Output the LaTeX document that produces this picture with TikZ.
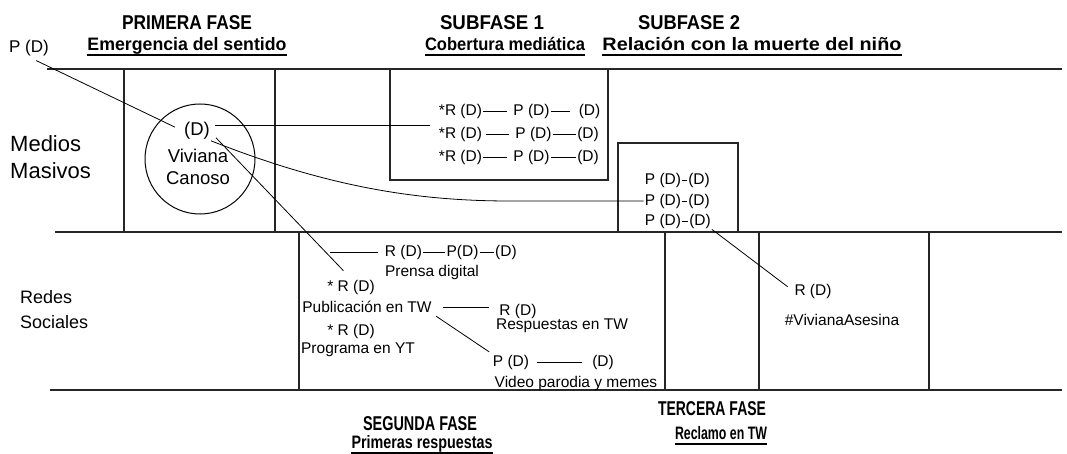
\documentclass[tikz,border=0pt]{standalone}
\usepackage{graphicx}
\usepackage{fontspec}
\setmainfont{Liberation Sans}
\newcommand{\fitwd}[2]{\resizebox{#1}{\height}{#2}}
\tikzset{
  frame/.style={line width=1.7pt, draw=black!85},
  conn/.style={line width=0.8pt, draw=black},
  uline/.style={line width=1.4pt, draw=black},
  txt/.style={inner sep=1pt, font=\fontsize{15.5}{18}\selectfont},
  big/.style={inner sep=1pt, font=\fontsize{18.5}{21}\selectfont},
  side/.style={anchor=west, inner sep=0pt, align=left},
  ttl/.style={inner sep=0pt, font=\bfseries\fontsize{20}{22}\selectfont},
  sub/.style={inner sep=0pt, text depth=4.5pt, font=\bfseries\fontsize{18}{20}\selectfont},
}
\begin{document}
\begin{tikzpicture}[x=1pt,y=-1pt]
\fill[white] (0,0) rectangle (1067,454);
\useasboundingbox (0,0) rectangle (1067,454);

% ---------- frame ----------
\draw[frame] (47,69) -- (1062,69);
\draw[frame] (55,232) -- (1062,232);
\draw[frame] (50,390) -- (1062,390);
\draw[frame] (124,69) -- (124,232);
\draw[frame] (275,69) -- (275,232);
\draw[frame] (390,69) -- (390,180) -- (608,180) -- (608,69);
\draw[frame] (618,232) -- (618,143) -- (738,143) -- (738,232);
\draw[frame] (299,232) -- (299,390);
\draw[frame] (665,232) -- (665,390);
\draw[frame] (759,232) -- (759,390);
\draw[frame] (929,232) -- (929,390);

% ---------- headings ----------
\node[ttl] (t1) at (187,23) {\fitwd{130pt}{PRIMERA FASE}};
\node[sub] (s1) at (187,46) {\fitwd{199pt}{Emergencia del sentido}};
\node[ttl] (t2) at (492,23) {\fitwd{104pt}{SUBFASE 1}};
\node[sub] (s2) at (505,46) {\fitwd{160pt}{Cobertura mediática}};
\node[ttl] (t3) at (689,23) {\fitwd{102pt}{SUBFASE 2}};
\node[sub] (s3) at (752,46) {\fitwd{299pt}{Relación con la muerte del niño}};
\node[ttl] (t4) at (420,424) {\fitwd{114pt}{SEGUNDA FASE}};
\node[sub] (s4) at (422,444) {\fitwd{141pt}{Primeras respuestas}};
\node[ttl] (t5) at (712,409) {\fitwd{108pt}{TERCERA FASE}};
\node[sub] (s5) at (721,435) {\fitwd{92pt}{Reclamo en TW}};
\foreach \s in {s1,s2,s3,s4,s5}{\draw[uline] (\s.south west) -- (\s.south east);}

% ---------- row labels ----------
\node[side, font=\fontsize{22}{27}\selectfont] (mm) at (10,157) {Medios\\Masivos};
\node[side, font=\fontsize{18}{25}\selectfont] (rs) at (20,310) {Redes\\Sociales};

% ---------- primera fase ----------
\node[font=\fontsize{17}{20}\selectfont, inner sep=1pt] (ptl) at (29,48) {P (D)};
\node[draw, circle, minimum size=110pt, inner sep=0pt, line width=1pt] (vc) at (200,159) {};
\node[big] (cd) at (197,131) {(D)};
\node[big] (viv) at (198,156) {Viviana};
\node[big] (can) at (198,178) {Canoso};

% ---------- subfase 1 ----------
\node[txt] (r1) at (460.5,111) {*R (D)};
\node[txt] (p1) at (531.5,111) {P (D)};
\node[txt] (d1) at (589.5,111) {(D)};
\node[txt] (r2) at (460.5,134) {*R (D)};
\node[txt] (p2) at (533.5,134) {P (D)};
\node[txt] (d2) at (588,134) {(D)};
\node[txt] (r3) at (460.5,157) {*R (D)};
\node[txt] (p3) at (531.5,157) {P (D)};
\node[txt] (d3) at (588,157) {(D)};
\draw[conn, shorten >=5pt] (r1) -- (p1);
\draw[conn, shorten >=8pt] (p1) -- (d1);
\draw[conn, shorten <=3pt, shorten >=5pt] (r2) -- (p2);
\draw[conn] (p2) -- (d2);
\draw[conn, shorten >=5pt] (r3) -- (p3);
\draw[conn] (p3) -- (d3);

% ---------- subfase 2 ----------
\node[txt] (q1) at (663,180) {P (D)};
\node[txt] (e1) at (699,180) {(D)};
\node[txt] (q2) at (663,201) {P (D)};
\node[txt] (e2) at (699,201) {(D)};
\node[txt] (q3) at (663,221) {P (D)};
\node[txt] (e3) at (700,221) {(D)};
\draw[conn] (q1) -- (e1);
\draw[conn] (q2) -- (e2);
\draw[conn] (q3) -- (e3);

% ---------- segunda fase ----------
\coordinate (pdc) at (330,252);
\node[txt] (pr) at (403.5,252) {R (D)};
\node[txt] (pp) at (462.5,252) {P(D)};
\node[txt] (pd) at (506,252) {(D)};
\node[txt] (prensa) at (432,272) {Prensa digital};
\node[txt] (pubr) at (351,287) {* R (D)};
\node[txt] (pub) at (367,307) {Publicación en TW};
\node[txt] (rresp) at (518,311) {R (D)};
\node[txt] (resp) at (562,326) {Respuestas en TW};
\node[txt] (ytr) at (351,331) {* R (D)};
\node[txt] (yt) at (358,350) {Programa en YT};
\node[txt] (pv) at (511,362) {P (D)};
\node[txt] (dv) at (603,362) {(D)};
\node[txt] (vid) at (576,383) {Video parodia y memes};
\draw[conn, shorten >=6pt] (pdc) -- (pr);
\draw[conn] (pr) -- (pp);
\draw[conn] (pp) -- (pd);
\draw[conn, shorten <=10pt, shorten >=9pt] (pub.east) -- (pub.east -| rresp.west);
\draw[conn, shorten <=4pt, shorten >=3pt] (pub.south east) -- (pv.north west);
\draw[conn, shorten <=7pt, shorten >=9pt] (pv) -- (dv);

% ---------- tercera fase ----------
\node[txt] (rd) at (813,291) {R (D)};
\node[txt] (hash) at (842,320) {\#VivianaAsesina};

% ---------- connectors between phases ----------
\draw[conn, shorten <=8pt, shorten >=9pt] (ptl.south) -- (cd.west);
\draw[conn, shorten <=4pt, shorten >=8pt] ([yshift=-4pt]cd.north east) -- ([yshift=-4pt]cd.north east -| r2.west);
\draw[conn] (cd.south east) .. controls (330,188) and (420,201) .. (510,201) -- (q2.west);
\draw[conn, shorten >=11pt] ([xshift=5pt,yshift=3pt]cd.south east) -- (pubr.north);
\draw[conn, shorten >=7pt] (e3.south east) -- (rd.west);
\end{tikzpicture}
\end{document}
